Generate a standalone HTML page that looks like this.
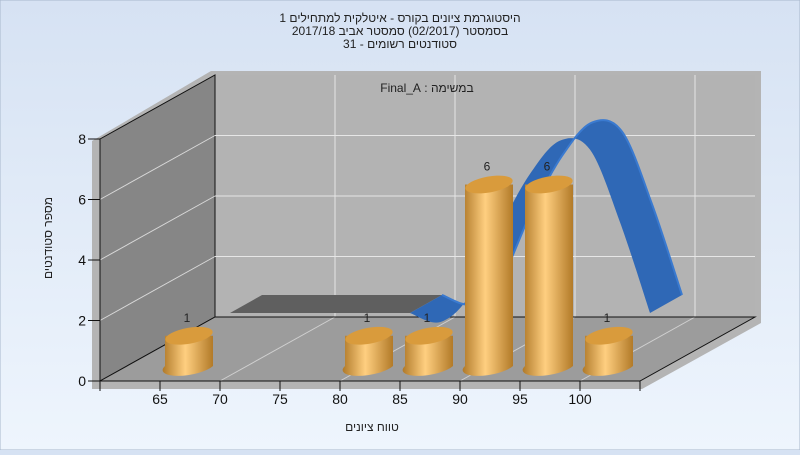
<!DOCTYPE html>
<html><head><meta charset="utf-8">
<style>
html,body{margin:0;padding:0;}
body{width:800px;height:450px;overflow:hidden;background:linear-gradient(#d6e2f3,#eef5fd);font-family:"Liberation Sans","DejaVu Sans",sans-serif;}
svg text{font-family:"Liberation Sans","DejaVu Sans",sans-serif;}
</style></head>
<body>
<svg id="chart" width="800" height="450" xmlns="http://www.w3.org/2000/svg">
<defs>
<linearGradient id="cyl" x1="0" x2="1" y1="0" y2="0">
<stop offset="0" stop-color="#b07a2a"/><stop offset="0.45" stop-color="#ffcf80"/><stop offset="1" stop-color="#b27a28"/>
</linearGradient>
<linearGradient id="bg" x1="0" x2="0" y1="0" y2="1"><stop offset="0" stop-color="#d6e2f3"/><stop offset="1" stop-color="#eef5fd"/></linearGradient>
</defs>
<rect x="0" y="0" width="800" height="450" fill="url(#bg)" stroke="#a8b8cc"/>
<g font-size="12" fill="#222" text-anchor="middle">
<text x="400" y="22" direction="rtl">היסטוגרמת ציונים בקורס - איטלקית למתחילים 1</text>
<text x="400" y="35" direction="rtl">בסמסטר  (02/2017)  סמסטר אביב 2017/18</text>
<text x="400" y="48" direction="rtl">סטודנטים רשומים - 31</text>
</g>
<g id="walls"></g>
<g id="ribbon"></g>
<g id="bars"></g>
<g id="axes"></g>
<text x="427" y="92" font-size="12" fill="#222" text-anchor="middle" direction="rtl">במשימה : Final_A</text>
<text x="372" y="431" font-size="12" fill="#222" text-anchor="middle" direction="rtl">טווח ציונים</text>
<text x="0" y="0" font-size="12" fill="#222" text-anchor="middle" direction="rtl" transform="translate(52,238) rotate(-90)">מספר סטודנטים</text>
</svg>
<script>
const categories=[65,70,75,80,85,90,95,100];
const counts=[1,0,0,1,1,6,6,1];
const yTicks=[0,2,4,6,8];
const xTickLabels=[65,70,75,80,85,90,95,100];
const curveX=[60,62.5,65,67.5,70,72.5,75,77.5,80,82.5,85,87.5,90,92.5,95];
const curveY=[0,0,0,0,0,0,0,-0.3,0.6,2.8,4.6,5.7,5.4,3.0,0];

const NS='http://www.w3.org/2000/svg';
const X0=100,Y0=381,PX=12,PY=30.25,DX=115,DY=-64;
const fx=v=>X0+(v-60)*PX, fy=h=>Y0-h*PY;
function mk(tag,attrs,parent){const e=document.createElementNS(NS,tag);for(const k in attrs)e.setAttribute(k,attrs[k]);parent.appendChild(e);return e;}
const walls=document.getElementById('walls'),axes=document.getElementById('axes'),bars=document.getElementById('bars'),rib=document.getElementById('ribbon');
const yMax=8,xMaxV=105;
let p;
p=mk('polygon',{points:`${X0-8},${fy(yMax)+2} ${X0+DX-4},${fy(yMax)+DY-4} ${fx(xMaxV)+DX+6},${fy(yMax)+DY-4} ${fx(xMaxV)+DX+6},${Y0+DY+6} ${fx(xMaxV)+2},${Y0+8} ${X0-8},${Y0+8}`,fill:'#b4b4b4'},walls);


p=mk('polygon',{points:`${X0+DX},${fy(yMax)+DY} ${fx(xMaxV)+DX},${fy(yMax)+DY} ${fx(xMaxV)+DX},${Y0+DY} ${X0+DX},${Y0+DY}`,fill:'#b3b3b3'},walls);


p=mk('polygon',{points:`${X0},${fy(yMax)} ${X0+DX},${fy(yMax)+DY} ${X0+DX},${Y0+DY} ${X0},${Y0}`,fill:'#868686',stroke:'#111','stroke-width':1},walls);


p=mk('polygon',{points:`${X0},${Y0} ${X0+DX},${Y0+DY} ${fx(xMaxV)+DX},${Y0+DY} ${fx(xMaxV)},${Y0}`,fill:'#9c9c9c',stroke:'#111','stroke-width':1},walls);


[2,4,6].forEach(t=>{
 let l=mk('line',{x1:X0,y1:fy(t),x2:X0+DX,y2:fy(t)+DY,stroke:'#d8d8d8'},walls);
 
 
 l=mk('line',{x1:X0+DX,y1:fy(t)+DY,x2:fx(xMaxV)+DX,y2:fy(t)+DY,stroke:'#e6e6e6'},walls);
 
 
});
[70,80,90,100].forEach(v=>{
 let l=mk('line',{x1:fx(v)+DX,y1:fy(yMax)+DY,x2:fx(v)+DX,y2:Y0+DY,stroke:'#e6e6e6'},walls);
 
 
 l=mk('line',{x1:fx(v),y1:Y0,x2:fx(v)+DX,y2:Y0+DY,stroke:'#d0d0d0'},walls);
 
 
});
mk('line',{x1:X0+DX,y1:Y0+DY,x2:fx(xMaxV)+DX,y2:Y0+DY,stroke:'#111'},walls);
const RX0=230,RY0=313,RDX=32,RDY=-18;
const rx=v=>RX0+(v-60)*PX, ry=h=>RY0-h*PY;
function spline(pts){let d=`M${pts[0][0]},${pts[0][1]}`;for(let i=0;i<pts.length-1;i++){const p0=pts[Math.max(0,i-1)],p1=pts[i],p2=pts[i+1],p3=pts[Math.min(pts.length-1,i+2)];d+=` C${p1[0]+(p2[0]-p0[0])/6},${p1[1]+(p2[1]-p0[1])/6} ${p2[0]-(p3[0]-p1[0])/6},${p2[1]-(p3[1]-p1[1])/6} ${p2[0]},${p2[1]}`;}return d;}
let flatEnd=0;curveY.forEach((h,i)=>{if(h===0&&curveY.slice(0,i+1).every(z=>z===0))flatEnd=i;});
const gp=mk('polygon',{points:`${rx(curveX[0])},${ry(0)} ${rx(curveX[flatEnd])},${ry(0)} ${rx(curveX[flatEnd])+RDX},${ry(0)+RDY} ${rx(curveX[0])+RDX},${ry(0)+RDY}`,fill:'#5f5f5f'},rib);


const cpts=curveX.map((v,i)=>[rx(v),ry(curveY[i])]).slice(flatEnd);
const bpts=cpts.map(q=>[q[0]+RDX,q[1]+RDY]);
let front=spline(cpts);
let back=spline(bpts.slice().reverse()).replace(/^M/,'L');
const rp=mk('path',{d:front+' '+back+' Z',fill:'#2f68b6'},rib);


const rt=mk('path',{d:spline(bpts),fill:'none',stroke:'#3a7ad0','stroke-width':2},rib);


const BW=48,BOFF=5,BBASE=366,RY=8;
categories.forEach((c,i)=>{
 const v=counts[i]; if(v<=0)return;
 const g=mk('g',{},bars);
 
 
 const x0=fx(c)+BOFF,cx=x0+BW/2,top=BBASE-v*PY;
 mk('path',{d:`M${x0},${top} L${x0},${BBASE} A${BW/2},${RY} -10 0 0 ${x0+BW},${BBASE} L${x0+BW},${top} Z`,fill:'url(#cyl)'},g);
 mk('ellipse',{cx:cx,cy:top,rx:BW/2,ry:RY,transform:`rotate(-10 ${cx} ${top})`,fill:'#d99b3c'},g);
 const t=mk('text',{x:cx-2,y:top-14,'font-size':12,fill:'#222','text-anchor':'middle'},bars);
 t.textContent=v;
 
 
});
let a=mk('line',{x1:X0,y1:fy(yMax),x2:X0,y2:Y0+10,stroke:'#111'},axes);


a=mk('line',{x1:X0,y1:Y0,x2:fx(xMaxV),y2:Y0,stroke:'#111'},axes);


yTicks.forEach(t=>{
 mk('line',{x1:X0-12,y1:fy(t),x2:X0,y2:fy(t),stroke:'#111'},axes);
 const tx=mk('text',{x:X0-14,y:fy(t)+5,'font-size':14,fill:'#111','text-anchor':'end'},axes);
 tx.textContent=t;
 
 
});
xTickLabels.forEach(t=>{
 mk('line',{x1:fx(t),y1:Y0,x2:fx(t),y2:Y0+10,stroke:'#111'},axes);
 const tx=mk('text',{x:fx(t),y:Y0+23,'font-size':14,fill:'#111','text-anchor':'middle'},axes);
 tx.textContent=t;
 
 
});
mk('line',{x1:fx(xMaxV),y1:Y0,x2:fx(xMaxV),y2:Y0+10,stroke:'#111'},axes);
</script>
</body></html>
